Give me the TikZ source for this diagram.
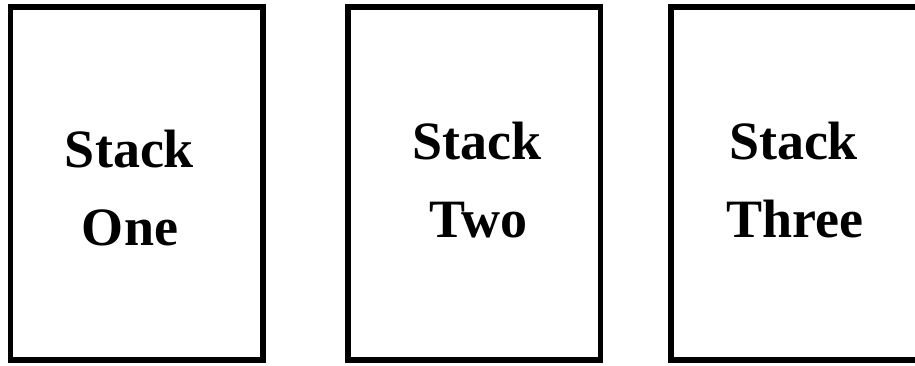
\documentclass[tikz,border=0pt]{standalone}
\usepackage{fontspec}
\setmainfont{Liberation Serif}
\begin{document}
\begin{tikzpicture}[x=1pt,y=-1pt,
  stackbox/.style={draw=black,line width=5.5pt,rectangle,inner sep=0pt,
    minimum width=252.5pt,minimum height=353pt,fill=white},
  label/.style={anchor=base,inner sep=0pt,font=\bfseries\fontsize{54}{77}\selectfont}]
\useasboundingbox (0,0) rectangle (915,366);
\fill[white] (0,0) rectangle (915,366);
\clip (0,0) rectangle (915,366);
\node[stackbox] (b1) at (136.75,183.5) {};
\node[stackbox] (b2) at (474,183.5) {};
\node[stackbox] (b3) at (797.25,183.5) {};
\node[label] (t1a) at (129.5,168) {Stack};
\node[label] (t1b) at (130,245) {One};
\node[label] (t2a) at (477,160) {Stack};
\node[label] (t2b) at (478.5,237) {Two};
\node[label] (t3a) at (793.5,160) {Stack};
\node[label] (t3b) at (794.5,237) {Three};
\end{tikzpicture}
\end{document}
